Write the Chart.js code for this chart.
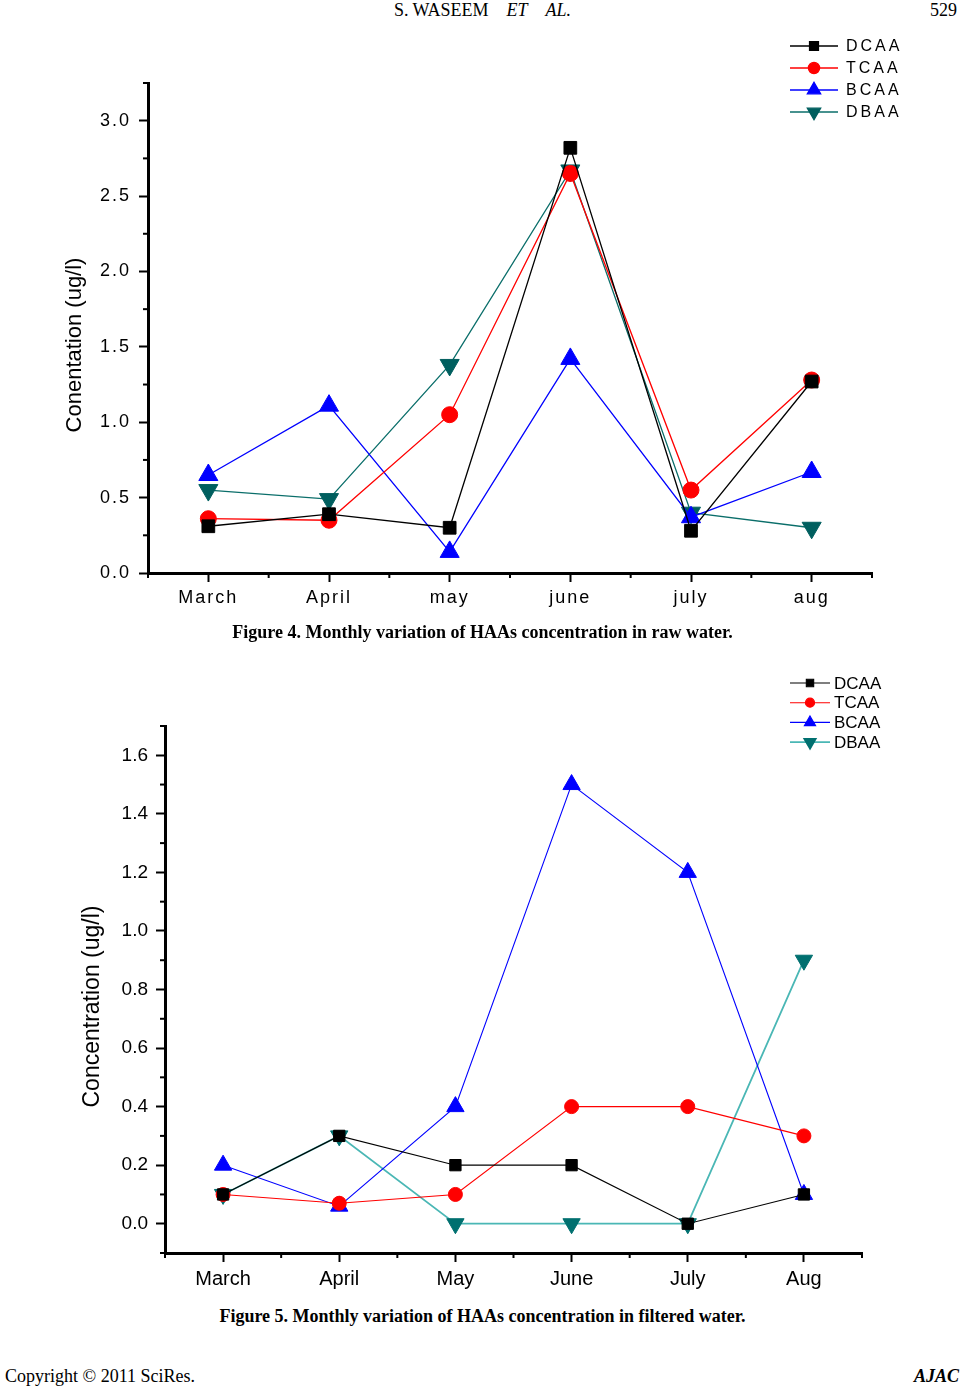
<!DOCTYPE html>
<html>
<head>
<meta charset="utf-8">
<script src="https://cdn.jsdelivr.net/npm/chart.js@4.4.0/dist/chart.umd.min.js"></script>
<style>
body { margin:0; background:#fff; width:965px; height:1386px; position:relative; overflow:hidden; font-family:"Liberation Serif","Times New Roman",serif; color:#000; }
.txt { position:absolute; white-space:nowrap; }
.cap { left:0; width:965px; text-align:center; font-weight:bold; font-size:18px; }
#c1 { position:absolute; left:40px; top:25px; }
#c2 { position:absolute; left:40px; top:665px; }
</style>
</head>
<body>
<div class="txt" style="left:0;width:965px;text-align:center;top:0px;font-size:18px;">S. WASEEM&nbsp;&nbsp;&nbsp;&nbsp;<i>ET</i>&nbsp;&nbsp;&nbsp;&nbsp;<i>AL.</i></div>
<div class="txt" style="left:930px;top:0px;font-size:18px;">529</div>
<canvas id="c1" width="880" height="600"></canvas>
<div class="txt cap" style="top:622px;">Figure 4. Monthly variation of HAAs concentration in raw water.</div>
<canvas id="c2" width="880" height="640"></canvas>
<div class="txt cap" style="top:1306px;">Figure 5. Monthly variation of HAAs concentration in filtered water.</div>
<div class="txt" style="left:5px;top:1366px;font-size:18px;">Copyright © 2011 SciRes.</div>
<div class="txt" style="left:914px;top:1366px;font-size:18px;font-weight:bold;font-style:italic;">AJAC</div>

<script>
// Figure 4 - raw water
const months4 = ['March', 'April', 'may', 'june', 'july', 'aug'];
const rawDCAA = [0.31, 0.39, 0.30, 2.82, 0.28, 1.27];
const rawTCAA = [0.36, 0.35, 1.05, 2.65, 0.55, 1.28];
const rawBCAA = [0.65, 1.11, 0.14, 1.42, 0.37, 0.67];
const rawDBAA = [0.55, 0.49, 1.38, 2.67, 0.40, 0.30];
const yTicks4 = [0, 0.5, 1.0, 1.5, 2.0, 2.5, 3.0];
const yMinor4 = [0.25, 0.75, 1.25, 1.75, 2.25, 2.75, 3.25];

// Figure 5 - filtered water
const months5 = ['March', 'April', 'May', 'June', 'July', 'Aug'];
const fltDCAA = [0.1, 0.3, 0.2, 0.2, 0.0, 0.1];
const fltTCAA = [0.1, 0.07, 0.1, 0.4, 0.4, 0.3];
const fltBCAA = [0.2, 0.06, 0.4, 1.5, 1.2, 0.1];
const fltDBAA = [0.1, 0.3, 0.0, 0.0, 0.0, 0.9];
const yTicks5 = [0, 0.2, 0.4, 0.6, 0.8, 1.0, 1.2, 1.4, 1.6];
const yMinor5 = [-0.1, 0.1, 0.3, 0.5, 0.7, 0.9, 1.1, 1.3, 1.5, 1.7];

// minor ticks, legend and y title drawn on top of the chart
const decor = {
    id: 'decor',
    beforeDraw(chart, args, o) {
        chart.ctx.letterSpacing = o.spacing + 'px';
    },
    afterDraw(chart, args, o) {
        const ctx = chart.ctx;
        const ca = chart.chartArea;
        const xs = chart.scales.x;
        const ys = chart.scales.y;
        ctx.save();
        ctx.strokeStyle = '#000';
        ctx.lineWidth = 2;
        o.yMinor.forEach(v => {
            const p = ys.getPixelForValue(v);
            ctx.beginPath();
            ctx.moveTo(ca.left - o.minorLen, p);
            ctx.lineTo(ca.left, p);
            ctx.stroke();
        });
        for (let i = 0; i <= xs.ticks.length; i++) {
            const p = xs.getPixelForValue(i - 0.5);
            ctx.beginPath();
            ctx.moveTo(p, ca.bottom);
            ctx.lineTo(p, ca.bottom + o.minorLen);
            ctx.stroke();
        }

        // legend
        chart.data.datasets.forEach((ds, i) => {
            const y = o.legend.y + i * o.legend.dy;
            ctx.strokeStyle = ds.borderColor;
            ctx.lineWidth = ds.borderWidth;
            ctx.beginPath();
            ctx.moveTo(o.legend.x, y);
            ctx.lineTo(o.legend.x + o.legend.len, y);
            ctx.stroke();
            ctx.fillStyle = ds.pointBackgroundColor;
            ctx.strokeStyle = ds.pointBorderColor;
            Chart.helpers.drawPoint(ctx, {
                pointStyle: ds.pointStyle,
                radius: ds.pointRadius * o.legend.mark,
                rotation: ds.pointRotation || 0,
                borderWidth: 1
            }, o.legend.x + o.legend.len / 2, y);
            ctx.fillStyle = '#000';
            ctx.font = o.legend.font;
            ctx.letterSpacing = o.legend.spacing + 'px';
            ctx.textAlign = 'left';
            ctx.textBaseline = 'middle';
            ctx.fillText(ds.label, o.legend.x + o.legend.len + o.legend.gap, y + 1);
        });

        // y axis title
        ctx.letterSpacing = '0px';
        ctx.font = o.title.font;
        ctx.fillStyle = '#000';
        ctx.textAlign = 'center';
        ctx.textBaseline = 'middle';
        ctx.translate(o.title.x, (ca.top + ca.bottom) / 2 + o.title.dy);
        ctx.rotate(-Math.PI / 2);
        ctx.fillText(o.title.text, 0, 0);
        ctx.restore();
    }
};

function makeDataset(label, data, color, style, radius, rotation, width, lineColor) {
    return {
        label: label,
        data: data,
        borderColor: lineColor || color,
        borderWidth: width,
        pointStyle: style,
        pointRadius: radius,
        pointRotation: rotation,
        pointBackgroundColor: color,
        pointBorderColor: color,
        pointBorderWidth: 1,
        tension: 0,
        fill: false
    };
}

function makeOptions(cfg) {
    return {
        responsive: false,
        animation: false,
        layout: { padding: { top: cfg.padTop, right: cfg.padRight, left: 0, bottom: 0 } },
        plugins: {
            legend: { display: false },
            tooltip: { enabled: false },
            decor: cfg.decor
        },
        scales: {
            x: {
                type: 'category',
                offset: true,
                grid: { display: true, drawOnChartArea: false, offset: false, tickLength: 9, tickWidth: 2, tickColor: '#000' },
                border: { display: true, color: '#000', width: 3 },
                ticks: { color: '#000', font: { family: 'Liberation Sans', size: cfg.xFont }, padding: 5, maxRotation: 0, autoSkip: false },
                afterFit: s => { s.height = cfg.xHeight; }
            },
            y: {
                min: cfg.yMin,
                max: cfg.yMax,
                afterBuildTicks: s => { s.ticks = cfg.yTicks.map(v => ({ value: v })); },
                grid: { display: true, drawOnChartArea: false, tickLength: 9, tickWidth: 2, tickColor: '#000' },
                border: { display: true, color: '#000', width: 3 },
                ticks: { color: '#000', font: { family: 'Liberation Sans', size: cfg.yFont }, padding: cfg.yPad,
                    callback: v => Number(v).toFixed(1) },
                afterFit: s => { s.width = cfg.yWidth; }
            }
        }
    };
}

new Chart(document.getElementById('c1'), {
    type: 'line',
    data: {
        labels: months4,
        datasets: [
            makeDataset('DCAA', rawDCAA, '#000000', 'rect', 9, 0, 1.3),
            makeDataset('TCAA', rawTCAA, '#ff0000', 'circle', 8, 0, 1.3),
            makeDataset('BCAA', rawBCAA, '#0000ff', 'triangle', 11, 0, 1.3),
            makeDataset('DBAA', rawDBAA, '#005f5f', 'triangle', 11, 180, 1.3, '#0a6e6a')
        ]
    },
    options: makeOptions({
        padTop: 58, padRight: 48, xHeight: 52, yWidth: 108,
        yMin: 0, yMax: 3.25, yTicks: yTicks4, xFont: 18, yFont: 18, yPad: 8,
        decor: {
            spacing: 2, minorLen: 5, yMinor: yMinor4,
            legend: { x: 750, y: 21, dy: 22, len: 48, gap: 8, mark: 0.7, font: '16px "Liberation Sans"', spacing: 3 },
            title: { x: 35, dy: 17, font: '22px "Liberation Sans"', text: 'Conentation (ug/l)' }
        }
    }),
    plugins: [decor]
});

new Chart(document.getElementById('c2'), {
    type: 'line',
    data: {
        labels: months5,
        datasets: [
            makeDataset('DCAA', fltDCAA, '#000000', 'rect', 8, 0, 1.1),
            makeDataset('TCAA', fltTCAA, '#ff0000', 'circle', 7, 0, 1.1),
            makeDataset('BCAA', fltBCAA, '#0000ff', 'triangle', 10, 0, 1.1),
            makeDataset('DBAA', fltDBAA, '#007070', 'triangle', 10, 180, 1.8, '#4ab7b5')
        ]
    },
    options: makeOptions({
        padTop: 61, padRight: 58, xHeight: 52, yWidth: 125,
        yMin: -0.1, yMax: 1.7, yTicks: yTicks5, xFont: 20, yFont: 19, yPad: 8,
        decor: {
            spacing: 0, minorLen: 5, yMinor: yMinor5,
            legend: { x: 750, y: 18, dy: 19.7, len: 40, gap: 4, mark: 0.65, font: '17px "Liberation Sans"', spacing: 0 },
            title: { x: 53, dy: 17, font: '23px "Liberation Sans"', text: 'Concentration (ug/l)' }
        }
    }),
    plugins: [decor]
});
</script>
</body>
</html>
